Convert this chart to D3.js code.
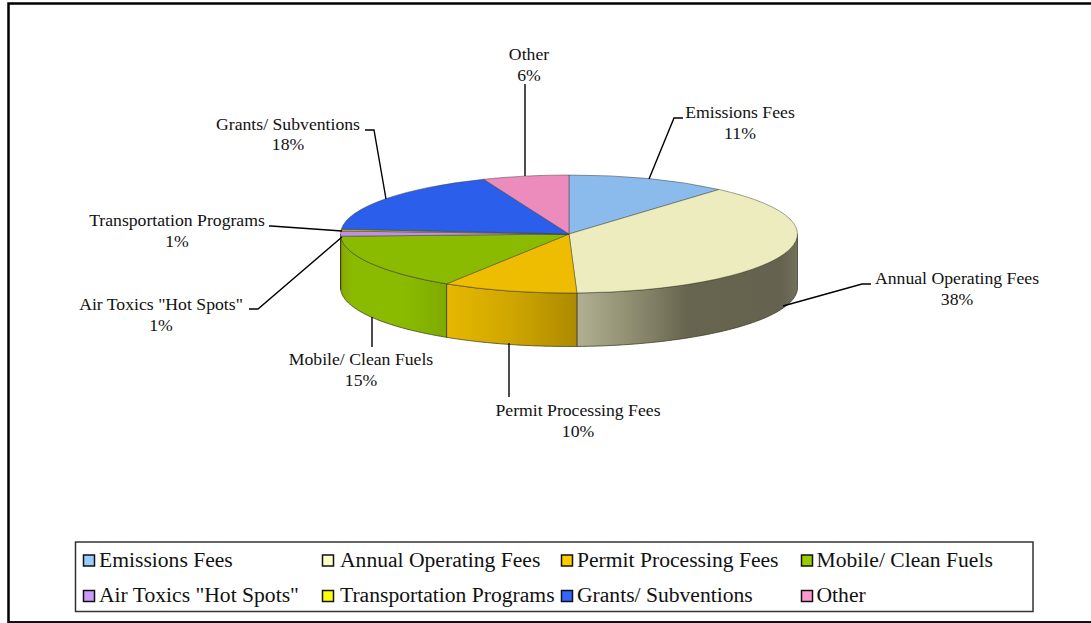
<!DOCTYPE html>
<html><head><meta charset="utf-8">
<script src="https://cdnjs.cloudflare.com/ajax/libs/d3/7.8.5/d3.min.js"></script>
<style>html,body{margin:0;padding:0;background:#fff}svg{display:block}text{font-family:"Liberation Serif",serif;fill:#111}</style>
</head><body><svg id="c" width="1091" height="623"></svg>
<script>
// Data
const categories = ["Emissions Fees","Annual Operating Fees","Permit Processing Fees","Mobile/ Clean Fuels","Air Toxics \"Hot Spots\"","Transportation Programs","Grants/ Subventions","Other"];
const values = [11.4,38.05,9.55,15.4,1.4,0.5,17.6,6.1];
const topColors = ["#8bbbec","#ececbe","#eebc00","#8abb00","#c090e8","#c0c000","#2c5eec","#ec8cbc"];
const legendColors = ["#99ccff","#ffffcc","#ffcc00","#99cc00","#cc99ff","#ffff00","#3366ff","#ff99cc"];

// Layout (not data)
const W=1091,H=623,cx=569,cy=234,rx=228.5,ry=59,depth=53.5;
const labelFont=17.7, legendFont=21.6;
const leaderLayout = {
 "Emissions Fees":{label:[740,118],gap:21,pts:[[674,118],[683,118]]},
 "Annual Operating Fees":{label:[957,284],gap:21,pts:[[862,284],[871,284]]},
 "Permit Processing Fees":{label:[578,416],gap:21,pts:[[509,397]]},
 "Mobile/ Clean Fuels":{label:[361,365],gap:21,pts:[[372,347]]},
 "Air Toxics \"Hot Spots\"":{label:[161,310],gap:21,pts:[[258,309],[249,309]]},
 "Transportation Programs":{label:[177,226],gap:21,pts:[[271,226],[269,226]]},
 "Grants/ Subventions":{label:[288,130],gap:20,pts:[[374,130],[365,130]]},
 "Other":{label:[529,60],gap:21,pts:[[525,84]]}
};
const anchors = {
 "Emissions Fees":[649,179],"Annual Operating Fees":[783,306],"Permit Processing Fees":[509,343],
 "Mobile/ Clean Fuels":[372,317],"Air Toxics \"Hot Spots\"":[342,237],"Transportation Programs":[342,231],
 "Grants/ Subventions":[386,199],"Other":[525,176]
};

const svg=d3.select("#c");
const defs=svg.append("defs");
const pie=d3.pie().sort(null).value(d=>d.v);
const arcs=pie(categories.map((c,i)=>({c,v:values[i],i})));
const total=d3.sum(values);
const pct=d3.format(".0%");

// frame
svg.append("path").attr("d",`M8.5,623V3.5H${W}`).attr("fill","none").attr("stroke","#000").attr("stroke-width",2.5);
svg.append("path").attr("d",`M8,622H${W}`).attr("fill","none").attr("stroke","#111").attr("stroke-width",2);

// walls
const ex=a=>cx+rx*Math.sin(a), ey=a=>cy-ry*Math.cos(a);
const wallGrad={
 1:[[0,"#b2b093"],[.25,"#8f8d70"],[.5,"#67654f"],[.93,"#65634f"],[1,"#73715c"]],
 2:[[0,"#e6b800"],[.5,"#cfa600"],[1,"#ad8a00"]],
 3:[[0,"#86a800"],[.12,"#8abb00"],[.6,"#8abb00"],[1,"#7faa00"]]
};
const wallLine=d3.line();
arcs.forEach(d=>{
  const a0=Math.max(d.startAngle,Math.PI/2), a1=Math.min(d.endAngle,3*Math.PI/2);
  if(a1<=a0) return;
  const top=d3.range(0,61).map(k=>a0+(a1-a0)*k/60);
  const pts=top.map(a=>[ex(a),ey(a)]).concat(top.slice().reverse().map(a=>[ex(a),ey(a)+depth]));
  const xs=pts.map(p=>p[0]);
  const id="w"+d.data.i;
  const stops=wallGrad[d.data.i]||[[0,topColors[d.data.i]],[1,topColors[d.data.i]]];
  const g=defs.append("linearGradient").attr("id",id).attr("gradientUnits","userSpaceOnUse")
    .attr("x1",d3.min(xs)).attr("x2",d3.max(xs)).attr("y1",0).attr("y2",0);
  stops.forEach(s=>g.append("stop").attr("offset",s[0]).attr("stop-color",s[1]));
  svg.append("path").attr("d",wallLine(pts)+"Z").attr("fill",`url(#${id})`)
    .attr("stroke","#3c3a20").attr("stroke-opacity",.75).attr("stroke-width",1);
});

// top surface, drawn with d3.arc in a squashed coordinate system
const arc=d3.arc().innerRadius(0).outerRadius(rx);
const topG=svg.append("g").attr("transform",`translate(${cx},${cy}) scale(1,${ry/rx})`);
topG.selectAll("path").data(arcs).join("path")
  .attr("d",arc).attr("fill",d=>topColors[d.data.i])
  .attr("stroke","#3c3a30").attr("stroke-opacity",.6).attr("stroke-width",.8)
  .attr("vector-effect","non-scaling-stroke");

// leaders
const leader=d3.line();
categories.forEach(c=>{
  svg.append("path").attr("d",leader([anchors[c],...leaderLayout[c].pts]))
    .attr("fill","none").attr("stroke","#000").attr("stroke-width",1.4);
});

// labels
arcs.forEach(d=>{
  const L=leaderLayout[d.data.c];
  const t=svg.append("text").attr("text-anchor","middle").attr("font-size",labelFont);
  t.append("tspan").attr("x",L.label[0]).attr("y",L.label[1]).text(d.data.c);
  t.append("tspan").attr("x",L.label[0]).attr("y",L.label[1]+L.gap).text(pct(d.data.v/total));
});

// legend
svg.append("rect").attr("x",75.5).attr("y",542).attr("width",957.5).attr("height",69.5)
  .attr("fill","#fff").attr("stroke","#333").attr("stroke-width",1.5);
const swatchX=d3.scaleOrdinal().domain([0,1,2,3]).range([83,322,561,801]);
const textX=d3.scaleOrdinal().domain([0,1,2,3]).range([99,340,577,816.5]);
const rowY=d3.scaleOrdinal().domain([0,1]).range([560.5,596]);
categories.forEach((c,i)=>{
  const col=i%4,row=Math.floor(i/4);
  svg.append("rect").attr("x",swatchX(col)+.5).attr("y",rowY(row)-5.5).attr("width",11).attr("height",11)
    .attr("fill",legendColors[i]).attr("stroke","#111").attr("stroke-width",1.5);
  svg.append("text").attr("x",textX(col)).attr("y",rowY(row)+6).attr("font-size",legendFont).text(c);
});
</script></body></html>
